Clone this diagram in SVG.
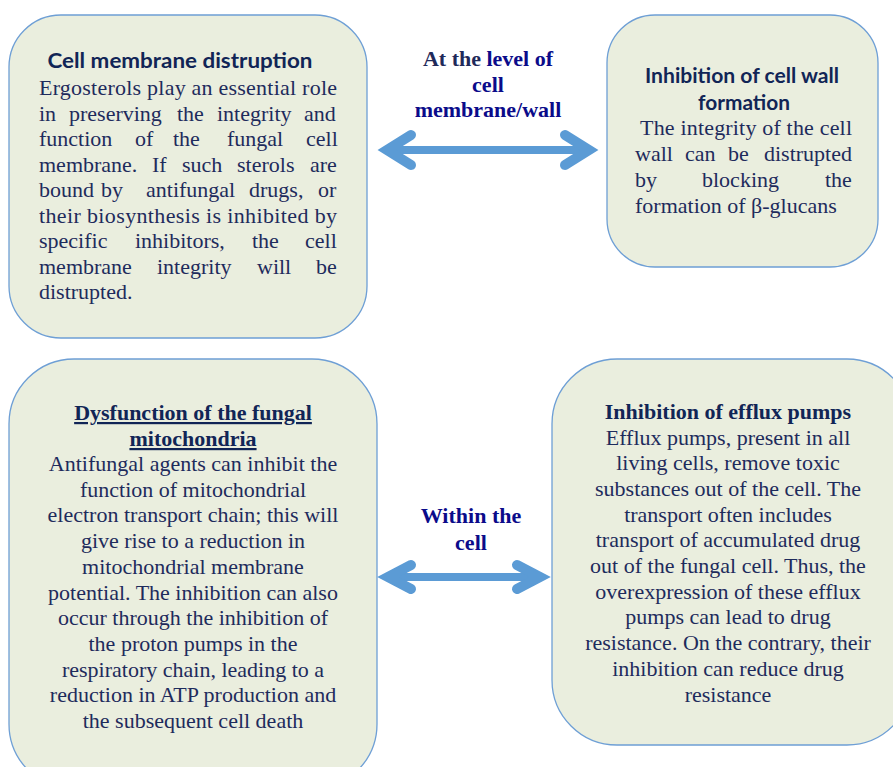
<svg xmlns="http://www.w3.org/2000/svg" width="893" height="767" viewBox="0 0 893 767">
<style>
.box{fill:#EAEEDE;stroke:#6E9FD5;stroke-width:1.3}
.body{font-family:"Liberation Serif","Times New Roman",serif;font-size:22px;fill:#1E2B5C}
.ctr{text-anchor:middle}
.stitle{font-family:Lato,"Liberation Sans",sans-serif;font-weight:700;font-size:20px;fill:#112556;text-anchor:middle}
.btitle{font-family:"Liberation Serif","Times New Roman",serif;font-weight:700;font-size:22px;fill:#112556;text-anchor:middle}
.lbl{font-family:"Liberation Serif","Times New Roman",serif;font-weight:700;font-size:22px;fill:#0B0B8A;text-anchor:middle}
.shaft{stroke:#5B9BD5;stroke-width:8;stroke-linecap:round;fill:none}
.head{stroke:#5B9BD5;stroke-width:10;stroke-linecap:round;stroke-linejoin:miter;fill:none}
</style>
<rect width="893" height="767" fill="#FFFFFF"/>
<g id="node-membrane">
<rect class="box" x="9" y="15" width="358" height="323" rx="52"/>
<text class="stitle" x="180" y="68" textLength="265" lengthAdjust="spacingAndGlyphs">Cell membrane distruption</text>
<text class="body" x="39" y="95" textLength="298" lengthAdjust="spacing">Ergosterols play an essential role</text>
<text class="body" y="120.5"><tspan x="39">in</tspan> <tspan x="69">preserving</tspan> <tspan x="177">the</tspan> <tspan x="217">integrity</tspan> <tspan x="304">and</tspan></text>
<text class="body" y="146"><tspan x="39">function</tspan> <tspan x="135">of</tspan> <tspan x="173">the</tspan> <tspan x="227">fungal</tspan> <tspan x="306">cell</tspan></text>
<text class="body" y="171.5"><tspan x="39">membrane.</tspan> <tspan x="152">If</tspan> <tspan x="182">such</tspan> <tspan x="237">sterols</tspan> <tspan x="310">are</tspan></text>
<text class="body" y="197"><tspan x="39">bound</tspan> <tspan x="101">by</tspan> <tspan x="146">antifungal</tspan> <tspan x="249">drugs,</tspan> <tspan x="318">or</tspan></text>
<text class="body" x="39" y="222.5" textLength="298" lengthAdjust="spacing">their biosynthesis is inhibited by</text>
<text class="body" y="248"><tspan x="39">specific</tspan> <tspan x="135">inhibitors,</tspan> <tspan x="252">the</tspan> <tspan x="305">cell</tspan></text>
<text class="body" y="273.5"><tspan x="39">membrane</tspan> <tspan x="157">integrity</tspan> <tspan x="257">will</tspan> <tspan x="316">be</tspan></text>
<text class="body" x="39" y="299">distrupted.</text>
</g>
<g id="node-wall">
<rect class="box" x="607" y="15" width="271" height="252" rx="48"/>
<text class="stitle" x="742" y="83" textLength="194" lengthAdjust="spacingAndGlyphs">Inhibition of cell wall</text>
<text class="stitle" x="744" y="110" textLength="92" lengthAdjust="spacingAndGlyphs">formation</text>
<text class="body" x="640" y="135" textLength="212" lengthAdjust="spacing">The integrity of the cell</text>
<text class="body" y="161"><tspan x="635">wall</tspan> <tspan x="685">can</tspan> <tspan x="728">be</tspan> <tspan x="764">distrupted</tspan></text>
<text class="body" y="187"><tspan x="635">by</tspan> <tspan x="702">blocking</tspan> <tspan x="825">the</tspan></text>
<text class="body" x="635" y="213">formation of β-glucans</text>
</g>
<g id="node-mitochondria">
<rect class="box" x="9" y="359" width="368" height="430" rx="65"/>
<text class="btitle" x="193" y="420" text-decoration="underline">Dysfunction of the fungal</text>
<text class="btitle" x="193" y="446" text-decoration="underline">mitochondria</text>
<text class="body ctr" x="193" y="471">Antifungal agents can inhibit the</text>
<text class="body ctr" x="193" y="496.7">function of mitochondrial</text>
<text class="body ctr" x="193" y="522.4">electron transport chain; this will</text>
<text class="body ctr" x="193" y="548.1">give rise to a reduction in</text>
<text class="body ctr" x="193" y="573.8">mitochondrial membrane</text>
<text class="body ctr" x="193" y="599.5">potential. The inhibition can also</text>
<text class="body ctr" x="193" y="625.2">occur through the inhibition of</text>
<text class="body ctr" x="193" y="650.9">the proton pumps in the</text>
<text class="body ctr" x="193" y="676.6">respiratory chain, leading to a</text>
<text class="body ctr" x="193" y="702.3">reduction in ATP production and</text>
<text class="body ctr" x="193" y="728">the subsequent cell death</text>
</g>
<g id="node-efflux">
<rect class="box" x="552" y="359" width="360" height="386" rx="65"/>
<text class="btitle" x="728" y="419">Inhibition of efflux pumps</text>
<text class="body ctr" x="728" y="444.5">Efflux pumps, present in all</text>
<text class="body ctr" x="728" y="470.2">living cells, remove toxic</text>
<text class="body ctr" x="728" y="495.9">substances out of the cell. The</text>
<text class="body ctr" x="728" y="521.6">transport often includes</text>
<text class="body ctr" x="728" y="547.3">transport of accumulated drug</text>
<text class="body ctr" x="728" y="573">out of the fungal cell. Thus, the</text>
<text class="body ctr" x="728" y="598.7">overexpression of these efflux</text>
<text class="body ctr" x="728" y="624.4">pumps can lead to drug</text>
<text class="body ctr" x="728" y="650.1">resistance. On the contrary, their</text>
<text class="body ctr" x="728" y="675.8">inhibition can reduce drug</text>
<text class="body ctr" x="728" y="701.5">resistance</text>
</g>
<g id="connectors">
<g id="conn-wall-level">
<line class="shaft" x1="388" y1="150" x2="588" y2="150"/>
<polyline class="head" points="411,135 387,150 411,165"/>
<polyline class="head" points="565,135 589,150 565,165"/>
<text class="lbl" x="488" y="66"><tspan fill="#1F2A5A">At the</tspan> level of</text>
<text class="lbl" x="488" y="92">cell</text>
<text class="lbl" x="488" y="117">membrane/wall</text>
</g>
<g id="conn-within-cell">
<line class="shaft" x1="389" y1="577" x2="539" y2="577"/>
<polyline class="head" points="411,565 388,577 411,589"/>
<polyline class="head" points="517,565 540,577 517,589"/>
<text class="lbl" x="471" y="523">Within the</text>
<text class="lbl" x="471" y="550">cell</text>
</g>
</g>
</svg>
